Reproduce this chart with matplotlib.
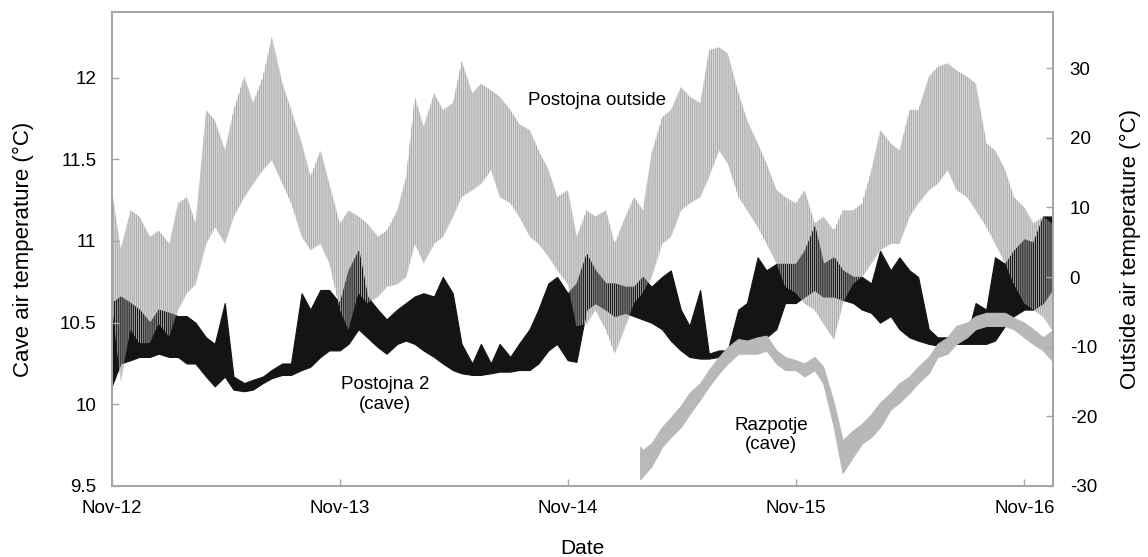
import matplotlib
matplotlib.use("Agg")
import matplotlib.pyplot as plt
import matplotlib.dates as mdates
import numpy as np
import pandas as pd

plt.rcParams['font.family'] = ['Liberation Sans', 'DejaVu Sans']
plt.rcParams['axes.unicode_minus'] = False
plt.rcParams['hatch.linewidth'] = 0.7

# semi-monthly readings (1st and 15th), Nov 2012 - Dec 2016
dates = pd.date_range('2012-11-01', '2016-12-15', freq='SMS')

# Postojna outside air temperature (right axis), upper / lower envelope
outside_hi = [12.5, 4.0, 9.6, 8.7, 5.8, 6.7, 4.8, 10.6, 11.5, 7.7,
              24.0, 22.5, 18.2, 24.0, 28.8, 25.0, 28.8, 34.5, 27.8, 24.0,
              19.2, 14.4, 18.2, 13.4, 7.7, 9.6, 8.7, 7.7, 5.8, 6.7,
              9.6, 14.4, 25.9, 21.6, 26.4, 24.0, 25.0, 31.0, 26.4, 27.8,
              26.8, 25.9, 24.0, 22.0, 21.1, 18.2, 15.4, 11.5, 12.5, 5.8,
              9.6, 8.7, 9.6, 4.8, 8.7, 11.5, 9.6, 17.8, 23.0, 24.0,
              27.3, 25.9, 25.0, 32.6, 33.0, 32.1, 26.4, 22.5, 19.2, 16.3,
              12.5, 11.5, 10.6, 12.5, 7.7, 8.7, 6.7, 9.6, 9.6, 10.6,
              15.4, 21.1, 19.2, 18.2, 24.0, 24.0, 28.8, 30.2, 30.7, 29.7,
              28.8, 27.8, 19.2, 18.2, 15.4, 11.5, 10.0, 7.7, 8.7, 7.7]
outside_lo = [-3.8, -15.0, -7.6, -9.5, -9.5, -6.7, -8.6, -4.7, -2.3, -1.0,
              4.8, 7.2, 4.8, 8.7, 11.5, 13.4, 15.4, 16.8, 13.4, 10.6,
              5.8, 3.9, 4.8, 2.0, -4.7, -7.6, -2.3, -3.8, -2.8, -1.4,
              -1.0, 0.0, 4.8, 2.0, 4.8, 5.8, 8.7, 11.5, 12.5, 13.4,
              15.4, 11.5, 10.6, 8.7, 5.8, 4.8, 2.9, 1.0, -1.0, -7.1,
              -6.7, -4.7, -7.6, -11.0, -7.1, -3.8, -2.3, 0.0, 4.8, 5.8,
              9.6, 10.6, 11.5, 14.4, 18.2, 16.3, 11.5, 9.6, 7.2, 4.8,
              2.0, -1.4, -2.3, -3.8, -4.7, -6.7, -9.0, -3.8, -1.0, 0.0,
              2.0, 3.9, 4.8, 4.8, 8.7, 10.6, 12.5, 13.4, 15.4, 12.5,
              11.5, 9.6, 7.2, 4.8, 2.0, -1.0, -3.8, -4.7, -5.7, -7.6]

# Postojna 2 cave air temperature (left axis)
postojna_hi = [10.62, 10.66, 10.62, 10.58, 10.50, 10.58, 10.56, 10.54, 10.54, 10.50,
               10.41, 10.37, 10.62, 10.17, 10.13, 10.15, 10.17, 10.21, 10.25, 10.25,
               10.68, 10.58, 10.70, 10.70, 10.62, 10.82, 10.94, 10.66, 10.58, 10.52,
               10.58, 10.62, 10.66, 10.68, 10.66, 10.78, 10.68, 10.37, 10.25, 10.37,
               10.25, 10.37, 10.29, 10.37, 10.46, 10.58, 10.74, 10.78, 10.68, 10.74,
               10.92, 10.82, 10.74, 10.74, 10.72, 10.72, 10.78, 10.72, 10.78, 10.82,
               10.58, 10.48, 10.70, 10.31, 10.33, 10.33, 10.58, 10.62, 10.90, 10.82,
               10.86, 10.86, 10.86, 10.94, 11.09, 10.86, 10.90, 10.82, 10.78, 10.78,
               10.74, 10.94, 10.82, 10.90, 10.82, 10.78, 10.46, 10.41, 10.41, 10.39,
               10.41, 10.62, 10.58, 10.90, 10.86, 10.94, 11.01, 10.99, 11.15, 11.15]
postojna_lo = [10.11, 10.25, 10.27, 10.29, 10.29, 10.31, 10.29, 10.29, 10.25, 10.25,
               10.17, 10.11, 10.17, 10.09, 10.08, 10.09, 10.13, 10.16, 10.18, 10.18,
               10.21, 10.23, 10.29, 10.33, 10.33, 10.37, 10.46, 10.41, 10.35, 10.31,
               10.37, 10.39, 10.37, 10.33, 10.29, 10.25, 10.21, 10.19, 10.18, 10.18,
               10.19, 10.20, 10.20, 10.21, 10.21, 10.25, 10.33, 10.37, 10.27, 10.26,
               10.58, 10.62, 10.58, 10.54, 10.56, 10.54, 10.52, 10.50, 10.46, 10.39,
               10.33, 10.29, 10.28, 10.28, 10.29, 10.31, 10.33, 10.37, 10.39, 10.41,
               10.46, 10.62, 10.62, 10.66, 10.70, 10.66, 10.66, 10.64, 10.62, 10.58,
               10.56, 10.50, 10.54, 10.46, 10.41, 10.39, 10.37, 10.36, 10.37, 10.37,
               10.37, 10.37, 10.37, 10.39, 10.48, 10.54, 10.58, 10.58, 10.62, 10.70]

# Razpotje cave air temperature (left axis), logger starts late Feb 2015
razpotje_dates = pd.DatetimeIndex(['2015-02-25']).append(
    pd.date_range('2015-03-01', '2016-12-15', freq='SMS'))
razpotje_hi = [9.74, 9.72, 9.76, 9.86, 9.92, 9.99, 10.07, 10.13, 10.21, 10.29,
               10.35, 10.40, 10.39, 10.41, 10.42, 10.33, 10.29, 10.27, 10.25, 10.29,
               10.23, 10.01, 9.78, 9.84, 9.88, 9.94, 10.01, 10.07, 10.13, 10.17,
               10.23, 10.29, 10.37, 10.41, 10.48, 10.50, 10.54, 10.56, 10.56, 10.56,
               10.53, 10.50, 10.46, 10.41, 10.45]
razpotje_lo = [9.54, 9.56, 9.62, 9.74, 9.80, 9.86, 9.94, 10.03, 10.11, 10.19,
               10.25, 10.31, 10.31, 10.31, 10.33, 10.25, 10.21, 10.21, 10.17, 10.21,
               10.13, 9.86, 9.58, 9.68, 9.76, 9.80, 9.86, 9.97, 10.01, 10.07,
               10.13, 10.19, 10.29, 10.31, 10.37, 10.41, 10.46, 10.48, 10.48, 10.48,
               10.46, 10.41, 10.37, 10.33, 10.27]

xticks = pd.date_range('2012-11-01', '2016-11-01', freq='12MS')

fig = plt.figure(figsize=(11.48, 5.57), dpi=100)
ax = fig.add_axes([0.0973, 0.1275, 0.8200, 0.8504])
ax2 = ax.twinx()

# cave series on the left axis
ax.fill_between(dates, postojna_lo, postojna_hi, color='#141414', lw=0.8)
ax.fill_between(razpotje_dates, razpotje_lo, razpotje_hi, color='#b8b8b8', lw=0.8)

# outside series: dense daily swings -> light underlay + vertical hatch on top
ax.fill_between(dates, outside_lo, outside_hi, transform=ax2.transData,
                color='#d9d9d9', lw=0, zorder=0)
ax2.fill_between(dates, outside_lo, outside_hi, facecolor='none',
                 edgecolor='#a9a9a9', hatch='|' * 8, lw=0)

ax.set_xlim(pd.Timestamp('2012-11-01'), pd.Timestamp('2016-12-17'))
ax.set_ylim(9.5, 12.4)
ax2.set_ylim(-30, 38)

ax.set_xticks(xticks)
ax.xaxis.set_major_formatter(mdates.DateFormatter('%b-%y'))
ax.set_yticks([9.5, 10, 10.5, 11, 11.5, 12])
ax.set_yticklabels(['9.5', '10', '10.5', '11', '11.5', '12'])
ax2.set_yticks([-30, -20, -10, 0, 10, 20, 30])

for a in (ax, ax2):
    for s in a.spines.values():
        s.set_color('#a6a6a6')
        s.set_linewidth(1.3)
ax.tick_params(axis='x', direction='in', length=5, width=1, color='#a6a6a6',
               labelsize=13.5, pad=10)
ax.tick_params(axis='y', direction='in', length=5, width=1, color='#a6a6a6',
               labelsize=13.5, pad=11)
ax2.tick_params(axis='y', direction='in', length=5, width=1, color='#a6a6a6',
                labelsize=13.5, pad=12)

ax.set_xlabel('Date', fontsize=15)
ax.xaxis.set_label_coords(0.5, -0.112)
ax.set_ylabel('Cave air temperature (°C)', fontsize=16)
ax.yaxis.set_label_coords(-0.0823, 0.5)
ax2.set_ylabel('Outside air temperature (°C)', fontsize=16)
ax2.yaxis.set_label_coords(1.071, 0.5)

ax2.text(pd.Timestamp('2014-12-18'), 25.4, 'Postojna outside', fontsize=13.5,
         ha='center', va='center')
ax2.text(pd.Timestamp('2014-01-13'), -16.9, 'Postojna 2\n(cave)', fontsize=13.5,
         ha='center', va='center')
ax2.text(pd.Timestamp('2015-09-23'), -22.7, 'Razpotje\n(cave)', fontsize=13.5,
         ha='center', va='center')

fig.savefig('out.png', dpi=100)
